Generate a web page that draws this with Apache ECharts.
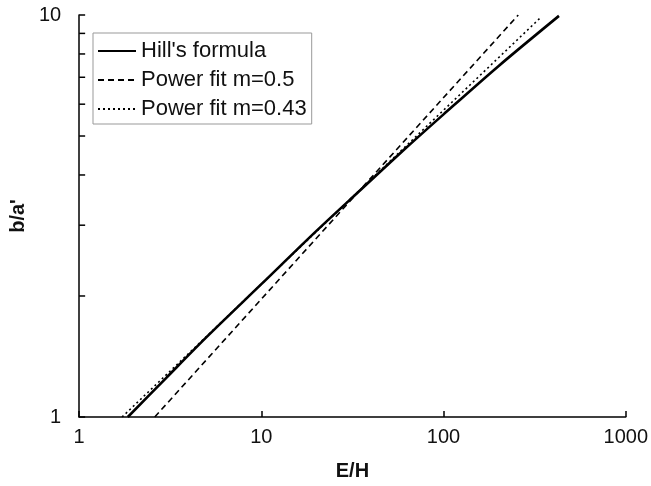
<!DOCTYPE html>
<html>
<head>
<meta charset="utf-8">
<script src="https://cdn.jsdelivr.net/npm/echarts@6/dist/echarts.min.js"></script>
<style>html,body{margin:0;padding:0;background:#fff}#c{width:651px;height:486px}</style>
</head>
<body>
<div id="c"></div>
<script>
// Data
const xTickLabels = [1, 10, 100, 1000];
const yTickLabels = [1, 10];
const yMinorTicks = [2, 3, 4, 5, 6, 7, 8, 9];

const hillX = [1.85, 3, 5, 10, 20, 35, 60, 100, 200, 430];
const hillY = [1.00, 1.25, 1.58, 2.14, 2.90, 3.67, 4.60, 5.66, 7.46, 9.95];

const pow05X = [2.6, 257];
const pow05Y = [1.0, 10.0];

const pow043X = [1.72, 339];
const pow043Y = [1.0, 9.83];

const seriesNames = ["Hill's formula", "Power fit m=0.5", "Power fit m=0.43"];

const pairs = (xs, ys) => xs.map((x, i) => [x, ys[i]]);
const FONT = 'Liberation Sans, Arial, sans-serif';

const chart = echarts.init(document.getElementById('c'), null, {renderer: 'canvas'});
chart.setOption({
  animation: false,
  backgroundColor: '#fff',
  grid: {left: 77, right: 25, top: 15, bottom: 69},
  legend: {
    data: seriesNames,
    orient: 'vertical',
    left: 93, top: 33,
    padding: [7, 5, 4, 4],
    itemGap: 7,
    itemWidth: 38, itemHeight: 14,
    borderColor: '#999', borderWidth: 1,
    backgroundColor: '#fff',
    itemStyle: {opacity: 0},
    textStyle: {fontFamily: FONT, fontSize: 22, color: '#111', padding: [0, 0, 0, 0]}
  },
  xAxis: {
    type: 'log', logBase: 10, min: xTickLabels[0], max: xTickLabels[xTickLabels.length - 1],
    name: 'E/H', nameLocation: 'middle', nameGap: 44,
    nameTextStyle: {fontFamily: FONT, fontSize: 20, fontWeight: 'bold', color: '#111'},
    axisLine: {lineStyle: {color: '#000', width: 1.5}},
    axisTick: {inside: true, length: 6, lineStyle: {color: '#000', width: 1.5}},
    axisLabel: {fontFamily: FONT, fontSize: 20, color: '#111', margin: 10,
                formatter: v => String(Math.round(v))},
    splitLine: {show: false}, minorTick: {show: false}
  },
  yAxis: {
    type: 'log', logBase: 10, min: yTickLabels[0], max: yTickLabels[yTickLabels.length - 1],
    name: "b/a'", nameLocation: 'middle', nameGap: 50,
    nameTextStyle: {fontFamily: FONT, fontSize: 20, fontWeight: 'bold', color: '#111'},
    axisLine: {lineStyle: {color: '#000', width: 1.5}},
    axisTick: {inside: true, length: 6, lineStyle: {color: '#000', width: 1.5}},
    axisLabel: {fontFamily: FONT, fontSize: 20, color: '#111', margin: 18,
                formatter: v => String(Math.round(v))},
    splitLine: {show: false}
  },
  series: [
    {
      name: seriesNames[0], type: 'line', data: pairs(hillX, hillY), symbol: 'none', smooth: 0.3,
      lineStyle: {color: '#000', width: 2.6, type: 'solid'}, itemStyle: {color: '#000'}, z: 3
    },
    {
      name: seriesNames[1], type: 'line', data: pairs(pow05X, pow05Y), symbol: 'none',
      lineStyle: {color: '#000', width: 1.6, type: [6, 4]}, itemStyle: {color: '#000'}
    },
    {
      name: seriesNames[2], type: 'line', data: pairs(pow043X, pow043Y), symbol: 'none',
      lineStyle: {color: '#000', width: 1.6, type: [2, 3]}, itemStyle: {color: '#000'}
    },
    {
      name: 'yMinor', type: 'custom', clip: false, silent: true,
      data: yMinorTicks.map(v => [xTickLabels[0], v]),
      encode: {x: 0, y: 1},
      renderItem: function (params, api) {
        const p = api.coord([api.value(0), api.value(1)]);
        return {type: 'line', shape: {x1: p[0], y1: p[1], x2: p[0] + 6, y2: p[1]},
                style: {stroke: '#000', lineWidth: 1.5}};
      }
    }
  ]
});
</script>
</body>
</html>
